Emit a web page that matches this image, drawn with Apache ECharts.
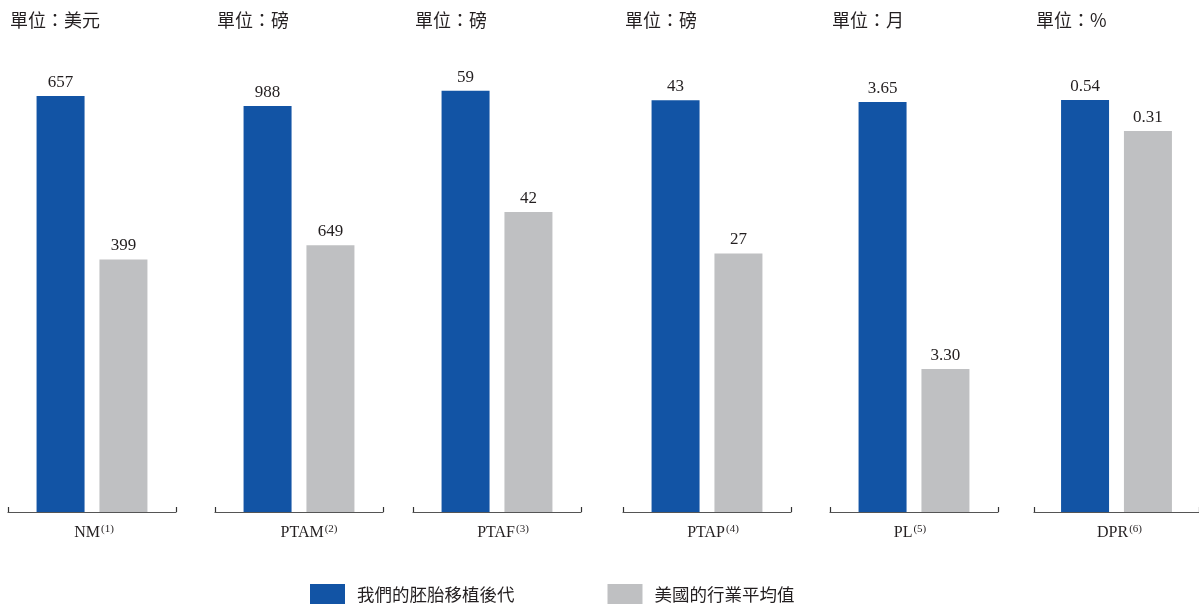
<!DOCTYPE html>
<html>
<head>
<meta charset="utf-8">
<script src="https://cdn.jsdelivr.net/npm/echarts@6/dist/echarts.min.js"></script>
<style>html,body{margin:0;padding:0;background:#fff;}#c{width:1199px;height:604px;}</style>
</head>
<body>
<div id="c"></div>
<script>
// ---- data ----
const categories = ['NM', 'PTAM', 'PTAF', 'PTAP', 'PL', 'DPR'];
const notes = ['(1)', '(2)', '(3)', '(4)', '(5)', '(6)'];
const units = ['單位：美元', '單位：磅', '單位：磅', '單位：磅', '單位：月', '單位：%'];
const ourValues = [657, 988, 59, 43, 3.65, 0.54];
const usAverage = [399, 649, 42, 27, 3.30, 0.31];
const decimals = [0, 0, 0, 0, 2, 2];
const seriesNames = ['我們的胚胎移植後代', '美國的行業平均值'];

// ---- layout / scales ----
const panelLeft = [8, 215, 413, 623, 830, 1034];
const panelWidth = 168;
const labelShift = [2, 10, 6, 6, -4, 3];
const gridTop = 60, gridHeight = 452;
const axisMin = [0, 0, 0, 0, 3.1126, -2.516];
const axisMax = [713.9, 1100, 63.3, 47.2, 3.705, 0.837];

const BLUE = '#1254A5', GRAY = '#BFC0C2', TEXT = '#231F20';
const SERIF = '"Liberation Serif", "Times New Roman", serif';
const CJK = '"Noto Sans CJK TC", "Noto Sans CJK SC", sans-serif';

const grids = [], xAxes = [], yAxes = [], series = [], titles = [];
categories.forEach((cat, i) => {
  grids.push({ left: panelLeft[i], width: panelWidth, top: gridTop, height: gridHeight });
  const sh = labelShift[i];
  xAxes.push({
    type: 'category', gridIndex: i, data: [cat], boundaryGap: true,
    axisLine: { show: true, onZero: false, lineStyle: { color: '#555', width: 1.2 } },
    axisTick: { show: true, inside: true, length: 5, lineStyle: { color: '#333', width: 1.2 } },
    axisLabel: {
      margin: 12,
      padding: sh >= 0 ? [0, 0, 0, 2 * sh] : [0, -2 * sh, 0, 0],
      formatter: v => `{b|${v}}{s|${notes[i]}}`,
      rich: {
        b: { fontFamily: SERIF, fontSize: 16, color: TEXT, lineHeight: 18 },
        s: { fontFamily: SERIF, fontSize: 11, color: TEXT, verticalAlign: 'top', lineHeight: 18, padding: [0, 0, 0, 1] }
      }
    }
  });
  const y = { type: 'value', gridIndex: i, min: axisMin[i], max: axisMax[i], show: false, splitLine: { show: false } };
  if (axisMin[i] !== 0) y.startValue = axisMin[i];
  yAxes.push(y);
  titles.push({ text: units[i], left: panelLeft[i] + 2, top: 11, padding: 0,
    textStyle: { fontFamily: CJK, fontSize: 18, fontWeight: 'normal', color: TEXT } });
  [ourValues, usAverage].forEach((arr, k) => {
    series.push({
      name: seriesNames[k], type: 'bar', xAxisIndex: i, yAxisIndex: i,
      data: [arr[i]], barWidth: 48, barGap: '31%',
      itemStyle: { color: k === 0 ? BLUE : GRAY },
      label: { show: true, position: 'top', distance: 5, fontFamily: SERIF, fontSize: 17, color: TEXT,
        formatter: p => Number(p.value).toFixed(decimals[i]) },
      emphasis: { disabled: true }, animation: false
    });
  });
});

const chart = echarts.init(document.getElementById('c'), null, { renderer: 'canvas' });
chart.setOption({
  animation: false,
  backgroundColor: '#fff',
  title: titles,
  grid: grids, xAxis: xAxes, yAxis: yAxes, series: series,
  legend: {
    data: seriesNames, left: 310, top: 584, padding: 0, itemWidth: 35, itemHeight: 20, itemGap: 93,
    icon: 'rect', selectedMode: false,
    textStyle: { fontFamily: CJK, fontSize: 17.5, color: TEXT, padding: [0, 0, 0, 7] }
  }
});
</script>
</body>
</html>
